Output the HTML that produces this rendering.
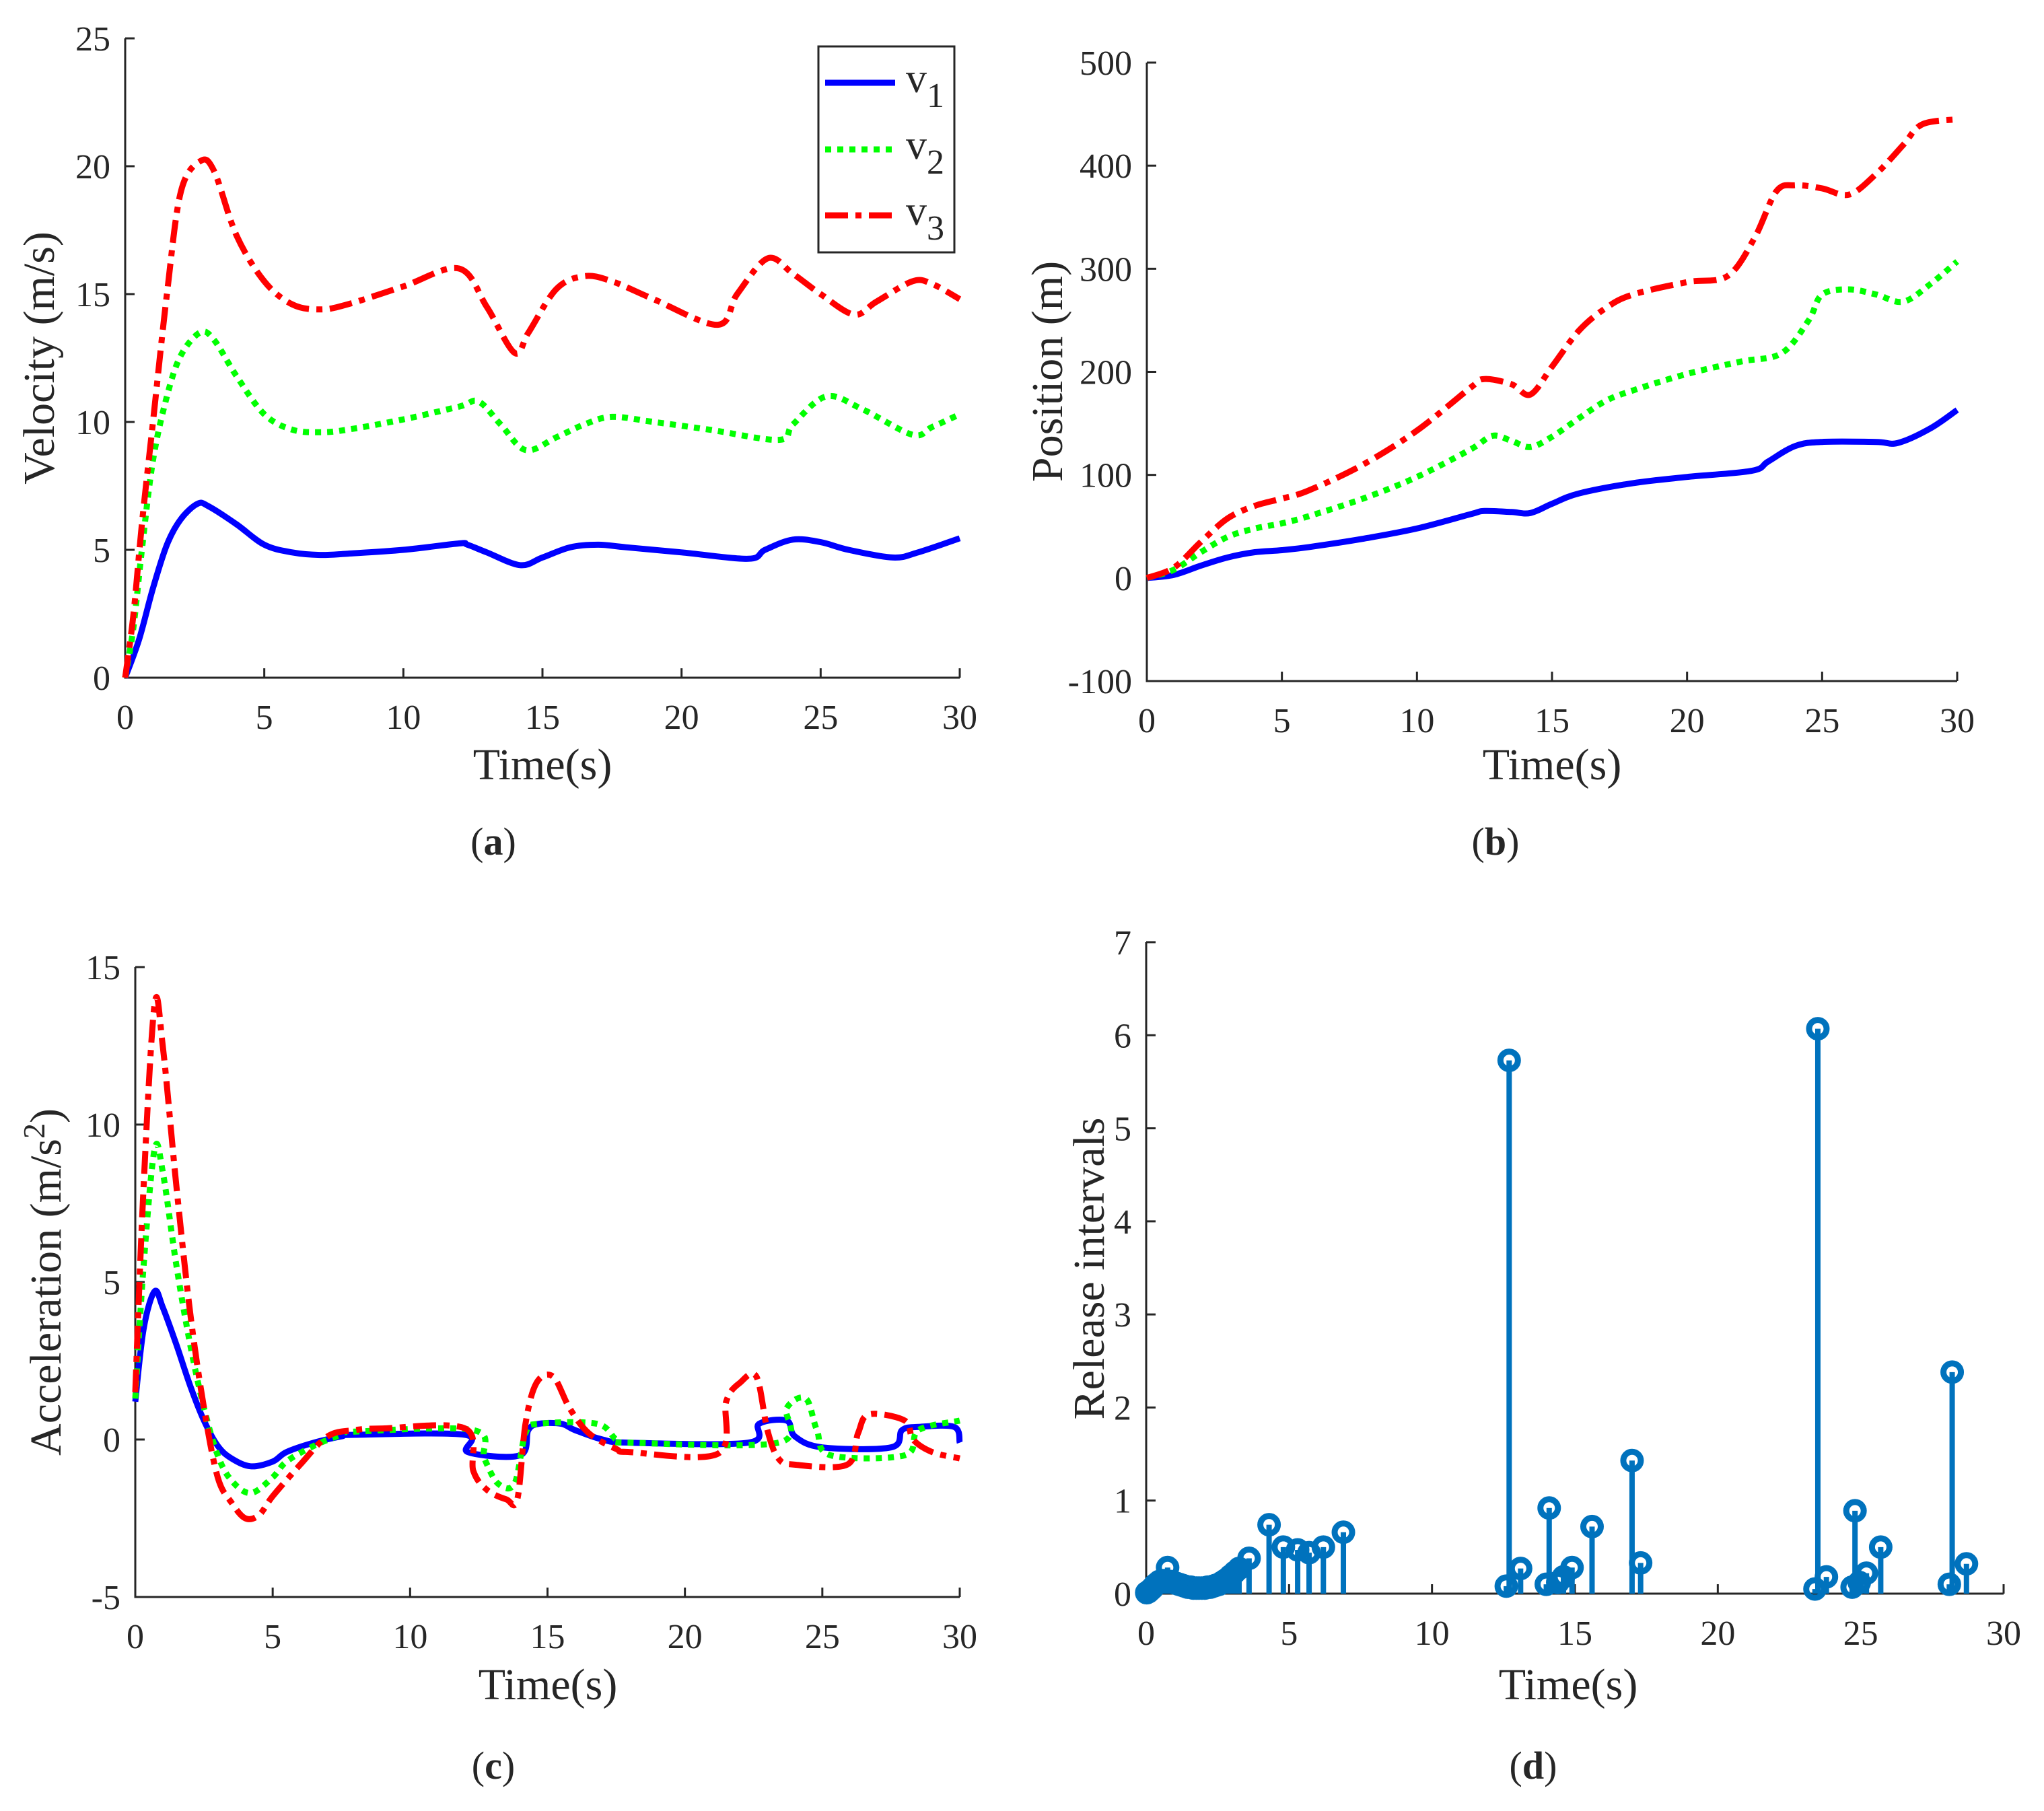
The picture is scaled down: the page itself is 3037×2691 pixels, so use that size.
<!DOCTYPE html>
<html><head><meta charset="utf-8">
<style>
html,body{margin:0;padding:0;background:#fff;}
svg{display:block;}
svg text{font-family:"Liberation Serif","Times New Roman",serif;fill:#262626;}
</style></head>
<body>
<svg id="fig" width="3037" height="2691" viewBox="0 0 3037 2691" xmlns="http://www.w3.org/2000/svg" font-family="Liberation Serif, serif"></svg>
<script>
// ---- Panel (a) velocity data ----
const vT1 = [0,0.5,1,1.5,2,2.6,3,4,5,6,7,8,10,12,12.3,13,14.2,15,16,17,18,20,22.4,23,24,25,26,27.6,28.5,30];
const vV1 = [0,1.5,3.5,5.2,6.2,6.8,6.7,6.0,5.2,4.9,4.8,4.85,5.0,5.25,5.2,4.9,4.4,4.7,5.1,5.2,5.1,4.9,4.65,5.0,5.4,5.3,5.0,4.7,4.9,5.45];
const vT2 = [0,0.3,0.6,1,1.5,2,2.7,3.2,4,5,6,7,8,10,12,12.7,13.5,14.4,15.5,16.5,17.5,19,21,23.5,24,25.2,26.5,28.3,29,30];
const vV2 = [0,2,5,8.5,11,12.6,13.5,13.2,11.8,10.3,9.7,9.6,9.7,10.1,10.6,10.8,9.9,8.9,9.4,9.9,10.2,10.0,9.7,9.3,9.9,11.0,10.5,9.5,9.8,10.3];
const vT3 = [0,0.3,0.6,1,1.5,2,2.7,3.2,4,5,6,7,8,10,12,13,14,14.5,15.5,16.5,17.5,19,21.3,22,23.1,24,25,26.2,27,28.3,29,30];
const vV3 = [0,2.5,6,10,15,19,20.2,19.8,17.3,15.5,14.6,14.4,14.6,15.3,16.0,14.5,12.7,13.5,15.2,15.7,15.5,14.8,13.8,15.0,16.4,15.8,15.0,14.2,14.7,15.5,15.4,14.8];
// ---- Panel (b) position data ----
const pT1 = [0,1,2,3,4,5,6,8,10,12,12.5,13.5,14.2,15,16,18,20,22.4,23,24,25,27,27.8,29,30];
const pV1 = [0,3,12,20,25,27,30,38,48,62,65,64,63,72,82,92,98,104,113,128,132,132,131,145,163];
const pT2 = [0,1,2,3,4,5,6,8,10,12,12.8,13.5,14.2,15,16,17,18,20,22,23.5,24.5,25,26,27,28,29,30];
const pV2 = [0,8,25,40,48,53,60,77,98,125,138,133,127,137,155,172,182,198,210,218,250,275,280,275,268,285,307];
const pT3 = [0,1,2,3,4,5,6,8,10,12,12.5,13.5,14.2,15,16,17,18,20,21.5,22.5,23.3,24,25,26,27,28,28.7,30];
const pV3 = [0,10,35,58,70,77,85,110,143,185,193,188,178,205,240,262,275,287,293,330,375,381,378,372,392,420,440,445];
// ---- Panel (c) acceleration data ----
const aT1 = [0,0.3,0.7,1,1.5,2,2.5,3,3.5,4.2,5,5.5,6.5,7.5,8,12,12.1,14,14.3,14.7,15.5,16,17,18,22.3,22.7,23.7,24,25,27.5,27.9,28.5,29.8,30];
const aV1 = [1.2,3.5,4.7,4.2,3,1.7,0.6,-0.2,-0.6,-0.85,-0.7,-0.4,-0.1,0.1,0.15,0.15,-0.4,-0.5,0.3,0.5,0.5,0.3,0.0,-0.1,-0.1,0.5,0.6,0.1,-0.25,-0.25,0.3,0.4,0.4,-0.1];
const aT2 = [0,0.3,0.7,1,1.5,2,2.5,3,3.5,4.2,5,5.5,6.5,7.5,8,12.3,12.7,13.2,13.8,14.2,14.7,16.8,17.5,18,23.4,23.7,24.4,24.8,25.3,28,28.5,30];
const aV2 = [1.3,5.5,9.2,8.5,5.5,3,1,-0.5,-1.3,-1.7,-1.2,-0.7,-0.2,0.15,0.25,0.3,-0.6,-1.4,-1.4,0.2,0.5,0.5,0,-0.1,-0.1,1.0,1.3,0.3,-0.5,-0.5,0.3,0.6];
const aT3 = [0,0.3,0.7,1,1.5,2,2.5,3,3.5,4,4.5,5,6,7,8,9,12,12.3,12.8,13.5,13.9,14.2,14.6,15.2,15.8,16.5,17.5,18,21.2,21.5,22,22.6,23,23.4,24,25.9,26.3,26.7,28,28.3,29,30];
const aV3 = [1.5,8,13.8,12.5,8,4,1,-1.2,-2,-2.5,-2.4,-1.8,-0.8,0.1,0.3,0.35,0.35,-1,-1.6,-1.9,-1.9,0.5,1.8,2.0,1,0.2,-0.3,-0.4,-0.45,1.2,1.8,2.0,0.3,-0.6,-0.8,-0.8,0.2,0.8,0.6,0,-0.4,-0.6];
// ---- Panel (d) release intervals ----
const dT = [0.02,0.08,0.15,0.22,0.3,0.38,0.46,0.55,0.65,0.75,0.85,0.95,1.05,1.15,1.25,1.35,1.45,1.55,1.65,1.75,1.85,1.95,2.05,2.15,2.25,2.35,2.45,2.55,2.65,2.75,2.85,2.95,3.1,3.25,3.6,4.3,4.8,5.3,5.7,6.2,6.9,12.6,12.7,13.1,14.0,14.1,14.4,14.6,14.9,15.6,17.0,17.3,23.4,23.5,23.8,24.7,24.8,24.95,25.2,25.7,28.1,28.2,28.7];
const dV = [0.01,0.02,0.04,0.06,0.09,0.11,0.13,0.14,0.14,0.28,0.13,0.12,0.11,0.1,0.09,0.08,0.07,0.07,0.06,0.06,0.06,0.06,0.06,0.07,0.07,0.08,0.09,0.1,0.12,0.14,0.16,0.19,0.23,0.27,0.38,0.74,0.5,0.47,0.44,0.5,0.66,0.08,5.73,0.27,0.1,0.92,0.12,0.18,0.28,0.72,1.43,0.33,0.05,6.07,0.18,0.07,0.89,0.12,0.22,0.5,0.1,2.38,0.32];
// ---- ticks ----
const xTicks = [0,5,10,15,20,25,30];
const aTicks = [0,5,10,15,20,25];
const bTicks = [-100,0,100,200,300,400,500];
const cTicks = [-5,0,5,10,15];
const dTicks = [0,1,2,3,4,5,6,7];

const NS = 'http://www.w3.org/2000/svg';
const FONT = '"Liberation Serif", serif';
const fig = document.getElementById('fig');
function mk(tag, attrs, parent){
  const e = document.createElementNS(NS, tag);
  for (const k in attrs) e.setAttribute(k, attrs[k]);
  if (tag === 'text') { e.setAttribute('font-family', FONT); e.style.fontFamily = FONT; }
  (parent||fig).appendChild(e);
  return e;
}
function axes(P, yTicks, name){
  const g = mk('g', {});
  
  
  P.sx = t => P.x0 + (t - P.xmin) / (P.xmax - P.xmin) * (P.x1 - P.x0);
  P.sy = v => P.y0 - (v - P.ymin) / (P.ymax - P.ymin) * (P.y0 - P.y1);
  const ax = mk('path', {d:`M${P.x0},${P.y1} L${P.x0},${P.y0} L${P.x1},${P.y0}`, fill:'none', stroke:'#262626', 'stroke-width':3}, g);
  
  
  xTicks.forEach(t => {
    const x = P.sx(t);
    mk('line', {x1:x, x2:x, y1:P.y0, y2:P.y0-14, stroke:'#262626','stroke-width':3}, g);
    const tx = mk('text', {x:x, y:P.y0+76, 'font-size':52, 'text-anchor':'middle'}, g);
    tx.textContent = t;
    
    
  });
  yTicks.forEach(v => {
    const y = P.sy(v);
    mk('line', {x1:P.x0, x2:P.x0+14, y1:y, y2:y, stroke:'#262626','stroke-width':3}, g);
    const tx = mk('text', {x:P.x0-22, y:y+18, 'font-size':52, 'text-anchor':'end'}, g);
    tx.textContent = v;
    
    
  });
}
function line(P, ts, vs, color, dash, name){
  const pts = ts.map((t,i) => [P.sx(t), P.sy(vs[i])]);
  let d = 'M' + pts[0][0].toFixed(1) + ',' + pts[0][1].toFixed(1);
  for (let i = 0; i < pts.length - 1; i++) {
    const p0 = pts[Math.max(0,i-1)], p1 = pts[i], p2 = pts[i+1], p3 = pts[Math.min(pts.length-1,i+2)];
    const c1 = [p1[0] + (p2[0]-p0[0])/6, p1[1] + (p2[1]-p0[1])/6];
    const c2 = [p2[0] - (p3[0]-p1[0])/6, p2[1] - (p3[1]-p1[1])/6];
    d += `C${c1[0].toFixed(1)},${c1[1].toFixed(1)} ${c2[0].toFixed(1)},${c2[1].toFixed(1)} ${p2[0].toFixed(1)},${p2[1].toFixed(1)}`;
  }
  const p = mk('path', {d:d, fill:'none', stroke:color, 'stroke-width':9, 'stroke-linejoin':'round'});
  if (dash) p.setAttribute('stroke-dasharray', dash);
  
  
}
function label(x, y, str, size, rot, name){
  const t = mk('text', {x:x, y:y, 'font-size':size, 'text-anchor':'middle'});
  if (rot) t.setAttribute('transform', `rotate(-90 ${x} ${y})`);
  t.textContent = str;
  
  
  return t;
}
function caption(x, y, letter, name){
  const c = mk('text', {x:x, y:y, 'font-size':58, 'text-anchor':'middle'});
  c.innerHTML = '(<tspan font-weight="bold">' + letter + '</tspan>)';
  
  
}
const DOT = '9 9', DASHDOT = '34 11 9 11';

// Panel a
const A = {x0:186,x1:1426,y0:1007,y1:57,xmin:0,xmax:30,ymin:0,ymax:25};
axes(A, aTicks, 'panel-a');
line(A, vT1, vV1, '#0000ff', null, 'v1-line');
line(A, vT2, vV2, '#00ff00', DOT, 'v2-line');
line(A, vT3, vV3, '#ff0000', DASHDOT, 'v3-line');
label(806, 1158, 'Time(s)', 66, false, 'panel-a-x-axis-title');
label(80, 532, 'Velocity (m/s)', 66, true, 'panel-a-y-axis-title');
caption(733, 1270, 'a', 'caption-a');
// legend
const lg = mk('g', {});


mk('rect', {x:1216, y:69, width:202, height:306, fill:'#fff', stroke:'#262626', 'stroke-width':3}, lg);
[['#0000ff',null,'1',123],['#00ff00',DOT,'2',222],['#ff0000',DASHDOT,'3',320]].forEach(e => {
  const l = mk('line', {x1:1226, x2:1330, y1:e[3], y2:e[3], stroke:e[0], 'stroke-width':9}, lg);
  if (e[1]) l.setAttribute('stroke-dasharray', e[1]);
  
  
  const t = mk('text', {x:1346, y:e[3]+14, 'font-size':62, fill:'#000'}, lg);
  t.innerHTML = 'v<tspan font-size="52" dy="22">' + e[2] + '</tspan>';
  
  
});

// Panel b
const B = {x0:1704,x1:2908,y0:1012,y1:93,xmin:0,xmax:30,ymin:-100,ymax:500};
axes(B, bTicks, 'panel-b');
line(B, pT1, pV1, '#0000ff', null, 'p1-line');
line(B, pT2, pV2, '#00ff00', DOT, 'p2-line');
line(B, pT3, pV3, '#ff0000', DASHDOT, 'p3-line');
label(2306, 1158, 'Time(s)', 66, false, 'panel-b-x-axis-title');
label(1578, 552, 'Position (m)', 66, true, 'panel-b-y-axis-title');
caption(2222, 1270, 'b', 'caption-b');

// Panel c
const C = {x0:201,x1:1426,y0:2373,y1:1437,xmin:0,xmax:30,ymin:-5,ymax:15};
axes(C, cTicks, 'panel-c');
line(C, aT1, aV1, '#0000ff', null, 'a1-line');
line(C, aT2, aV2, '#00ff00', DOT, 'a2-line');
line(C, aT3, aV3, '#ff0000', DASHDOT, 'a3-line');
label(814, 2525, 'Time(s)', 66, false, 'panel-c-x-axis-title');
const yc = mk('text', {x:90, y:1905, 'font-size':66, 'text-anchor':'middle', transform:'rotate(-90 90 1905)'});
yc.innerHTML = 'Acceleration (m/s<tspan font-size="46" dy="-24">2</tspan><tspan dy="24">)</tspan>';


caption(733, 2643, 'c', 'caption-c');

// Panel d
const D = {x0:1703,x1:2977,y0:2368,y1:1400,xmin:0,xmax:30,ymin:0,ymax:7};
axes(D, dTicks, 'panel-d');
const sg = mk('g', {});


dT.forEach((t,i) => {
  const x = D.sx(t), y = D.sy(dV[i]);
  const s = mk('line', {x1:x, x2:x, y1:D.y0, y2:y, stroke:'#0072bd', 'stroke-width':8}, sg);
  
  
  const c = mk('circle', {cx:x, cy:y, r:13, fill:'none', stroke:'#0072bd', 'stroke-width':9}, sg);
  
  
});
label(2330, 2525, 'Time(s)', 66, false, 'panel-d-x-axis-title');
label(1640, 1885, 'Release intervals', 66, true, 'panel-d-y-axis-title');
caption(2278, 2643, 'd', 'caption-d');
</script>
</body></html>
